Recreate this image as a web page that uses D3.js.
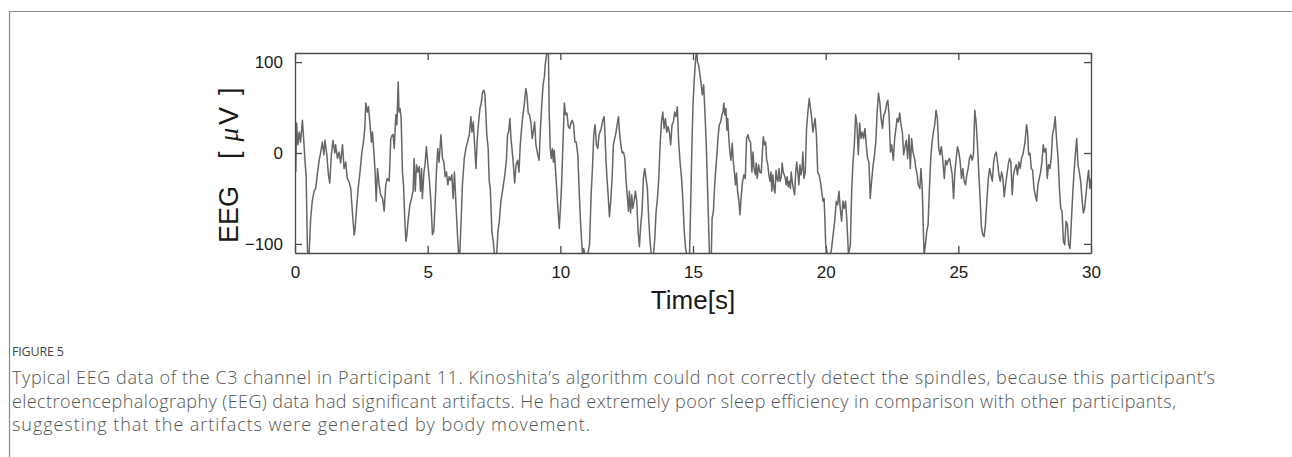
<!DOCTYPE html>
<html>
<head>
<meta charset="utf-8">
<script src="https://cdn.jsdelivr.net/npm/d3@7"></script>
<style>
  body { margin: 0; background: #fff; }
  svg { display: block; }
</style>
</head>
<body>
<div class="chart"></div>
<script>
const svgWidth = 1292
const svgHeight = 457

// EEG trace (seconds, microvolts)
const times = [
  0.00,0.03,0.06,0.11,0.16,0.21,0.28,0.34,0.38,0.42,0.47,0.53,0.59,0.65,0.72,0.78,0.84,0.91,0.97,1.03,
  1.09,1.13,1.20,1.26,1.31,1.37,1.43,1.50,1.53,1.60,1.66,1.72,1.79,1.85,1.91,1.97,2.04,2.10,2.16,2.23,
  2.26,2.33,2.38,2.45,2.52,2.58,2.63,2.67,2.73,2.77,2.82,2.88,2.92,2.98,3.02,3.06,3.11,3.17,3.23,3.30,
  3.36,3.42,3.48,3.55,3.61,3.67,3.70,3.74,3.80,3.84,3.89,3.92,3.96,4.00,4.05,4.09,4.14,4.18,4.21,4.26,
  4.33,4.39,4.45,4.49,4.53,4.58,4.63,4.68,4.73,4.77,4.80,4.86,4.90,4.95,5.00,5.06,5.12,5.18,5.23,5.28,
  5.33,5.38,5.43,5.50,5.56,5.61,5.66,5.71,5.76,5.81,5.86,5.91,5.96,6.01,6.06,6.13,6.17,6.21,6.26,6.31,
  6.38,6.44,6.50,6.57,6.63,6.67,6.72,6.77,6.82,6.87,6.92,6.97,7.02,7.07,7.12,7.16,7.19,7.23,7.28,7.32,
  7.36,7.42,7.47,7.52,7.60,7.65,7.70,7.76,7.82,7.89,7.92,7.97,8.01,8.05,8.10,8.14,8.20,8.24,8.28,8.33,
  8.39,8.44,8.49,8.54,8.59,8.64,8.70,8.74,8.79,8.84,8.89,8.94,8.99,9.03,9.08,9.15,9.20,9.25,9.30,9.35,
  9.40,9.43,9.48,9.52,9.55,9.58,9.62,9.66,9.70,9.74,9.77,9.84,9.90,9.96,10.03,10.06,10.11,10.15,10.20,10.25,
  10.30,10.35,10.40,10.45,10.50,10.55,10.60,10.66,10.71,10.76,10.81,10.84,10.88,10.93,11.03,11.10,11.16,11.21,11.26,11.31,
  11.36,11.41,11.46,11.54,11.60,11.65,11.68,11.72,11.76,11.81,11.85,11.90,11.95,12.00,12.05,12.10,12.14,12.19,12.23,12.28,
  12.33,12.38,12.43,12.48,12.53,12.57,12.60,12.65,12.69,12.73,12.78,12.83,12.88,12.93,12.98,13.03,13.08,13.13,13.18,13.23,
  13.28,13.33,13.38,13.43,13.51,13.56,13.61,13.66,13.71,13.76,13.81,13.86,13.91,13.96,14.01,14.06,14.11,14.16,14.21,14.26,
  14.31,14.36,14.41,14.46,14.52,14.57,14.62,14.67,14.72,14.77,14.87,14.92,14.96,15.00,15.05,15.10,15.14,15.17,15.21,15.25,
  15.30,15.35,15.40,15.45,15.50,15.56,15.62,15.69,15.72,15.77,15.81,15.85,15.90,15.94,15.99,16.04,16.09,16.13,16.16,16.20,
  16.24,16.28,16.31,16.35,16.39,16.43,16.48,16.52,16.57,16.60,16.64,16.68,16.73,16.77,16.82,16.87,16.92,16.97,17.02,17.07,
  17.12,17.17,17.22,17.26,17.30,17.35,17.38,17.42,17.47,17.52,17.57,17.61,17.65,17.70,17.74,17.77,17.82,17.86,17.90,17.94,
  17.97,18.01,18.05,18.09,18.13,18.16,18.20,18.24,18.28,18.33,18.36,18.40,18.44,18.48,18.51,18.55,18.59,18.63,18.67,18.70,
  18.74,18.78,18.83,18.87,18.91,18.96,18.99,19.03,19.07,19.11,19.14,19.18,19.23,19.28,19.33,19.38,19.46,19.52,19.56,19.60,
  19.65,19.70,19.75,19.80,19.85,19.90,19.94,19.97,20.00,20.03,20.06,20.15,20.21,20.28,20.34,20.40,20.45,20.50,20.55,20.60,
  20.65,20.70,20.75,20.80,20.86,20.93,20.98,21.03,21.08,21.13,21.18,21.23,21.28,21.33,21.38,21.43,21.48,21.53,21.58,21.63,
  21.68,21.73,21.79,21.84,21.89,21.94,21.99,22.04,22.09,22.14,22.19,22.24,22.29,22.34,22.39,22.44,22.49,22.55,22.60,22.65,
  22.69,22.74,22.79,22.84,22.89,22.94,22.99,23.04,23.09,23.14,23.19,23.24,23.29,23.35,23.40,23.45,23.49,23.55,23.59,23.64,
  23.69,23.71,23.76,23.81,23.86,23.91,23.96,24.01,24.06,24.11,24.16,24.21,24.26,24.31,24.36,24.41,24.47,24.52,24.57,24.62,
  24.67,24.72,24.77,24.82,24.87,24.92,24.97,25.02,25.07,25.12,25.17,25.22,25.27,25.32,25.37,25.42,25.47,25.52,25.57,25.62,
  25.67,25.72,25.77,25.82,25.87,25.92,25.97,26.02,26.08,26.13,26.18,26.23,26.28,26.33,26.38,26.43,26.48,26.53,26.58,26.63,
  26.68,26.73,26.78,26.83,26.88,26.93,26.98,27.03,27.08,27.13,27.18,27.23,27.28,27.33,27.38,27.43,27.51,27.57,27.61,27.65,
  27.70,27.75,27.80,27.85,27.90,27.95,28.00,28.05,28.10,28.15,28.20,28.25,28.30,28.35,28.40,28.45,28.50,28.55,28.60,28.65,
  28.70,28.76,28.81,28.86,28.91,28.96,29.01,29.06,29.11,29.16,29.21,29.26,29.31,29.36,29.41,29.46,29.51,29.56,29.61,29.66,
  29.71,29.76,29.81,29.86,29.91,29.96,30.00
]
const eeg = [
  -6,-20,33,9,23,12,36,9,-10,-26,-108,-112,-72,-53,-42,-39,-24,-8,1,12,
  -2,14,-2,-24,-33,-2,14,0,9,-6,1,-11,9,-17,-10,-28,-32,-39,-64,-90,
  -85,-57,-39,-21,1,12,27,55,45,51,34,12,23,-2,-21,-53,-17,-35,-46,-50,
  -64,-35,-28,-31,16,20,20,5,42,31,78,45,49,38,-21,-35,-75,-97,-92,-75,
  -57,-50,-42,-6,-42,-13,-21,-15,-42,-17,-50,-21,-13,7,-10,-28,-53,-90,-86,-57,
  -21,5,-10,20,-6,-10,-26,-21,-35,-26,-30,-24,-50,-21,-53,-94,-112,-112,-75,-35,
  -6,5,12,20,40,23,34,9,-17,16,34,49,55,67,69,64,45,20,5,-31,
  -39,-86,-97,-112,-112,-86,-75,-53,-42,-28,-21,-6,20,23,38,16,-2,-17,-33,-13,
  -8,-21,9,27,42,53,71,64,44,42,34,16,25,34,9,-2,-8,27,53,75,
  84,97,108,114,112,45,5,-6,5,-10,3,-28,-57,-83,-46,-24,20,55,42,44,
  29,27,33,36,31,12,12,-2,-42,-75,-101,-112,-105,-112,-112,-101,-46,-17,20,31,
  9,5,20,27,36,40,23,-8,-28,-50,-70,-53,-28,9,16,23,31,40,23,9,
  0,1,-6,-31,-50,-64,-42,-66,-46,-61,-53,-42,-53,-86,-103,-79,-64,-28,-17,-28,
  -39,-72,-97,-112,-112,-94,-64,-50,-28,9,34,45,27,38,23,29,23,9,31,34,
  45,40,51,12,-13,-28,-53,-86,-105,-112,-112,-46,9,53,82,104,112,100,97,89,
  78,64,75,45,9,-50,-112,-112,-72,-64,-39,-21,-2,16,31,34,42,45,55,42,
  49,25,38,16,1,-8,11,-10,-24,-35,-22,-42,-53,-68,-46,-31,-24,-28,16,20,
  14,12,-21,1,-17,-24,-11,-28,-13,-21,-22,-2,18,9,12,-6,-13,-24,-31,-21,
  -42,-24,-39,-44,-19,-28,-31,-17,-31,-26,-11,-21,-24,-28,-35,-26,-37,-31,-39,-21,
  -31,-39,-46,-21,-10,-24,-35,-13,-24,-17,1,-28,-21,27,45,60,42,23,31,38,
  20,-21,-24,-31,-42,-53,-50,-72,-101,-105,-112,-112,-108,-90,-75,-53,-57,-42,-61,-75,
  -53,-61,-53,-75,-112,-101,-42,-10,9,42,31,-2,33,16,23,16,27,9,-6,-10,
  -50,-31,-13,-2,12,45,66,56,38,27,42,45,53,58,42,1,9,-8,16,27,
  38,34,44,31,23,-2,7,14,-6,20,-17,16,1,-6,-17,-24,-35,-39,-17,-39,
  -94,-112,-101,-86,-79,-39,-6,12,23,31,47,38,5,-2,7,-6,-28,-8,-13,-8,
  -6,-15,-24,-50,-21,-6,7,1,-10,-28,-17,-31,-35,-24,-17,-6,-2,-8,-2,47,
  34,9,-21,-50,-81,-90,-92,-79,-50,-28,-17,-24,-31,-10,-2,1,-11,-24,-31,-21,
  -28,-48,-35,-24,-13,-6,-10,-46,-24,-17,-13,-24,-10,-17,-6,-2,11,31,23,-2,
  0,-17,-19,-39,-46,-53,-35,-28,-21,-10,9,1,5,-28,-13,-17,-6,20,27,40,
  16,-6,-39,-61,-64,-97,-101,-75,-79,-101,-105,-75,-46,-21,-2,16,-13,-21,-31,-50,
  -66,-61,-46,-31,-19,-39,-28
]

const xTicks = [0, 5, 10, 15, 20, 25, 30]
const yTicks = [-100, 0, 100]

const xLabel = "Time[s]"
const figureTitle = "FIGURE 5"
const captionLines = [
  "Typical EEG data of the C3 channel in Participant 11. Kinoshita’s algorithm could not correctly detect the spindles, because this participant’s",
  "electroencephalography (EEG) data had significant artifacts. He had extremely poor sleep efficiency in comparison with other participants,",
  "suggesting that the artifacts were generated by body movement."
]
// right edge of each caption line in the figure
const captionEnds = [1215, 1176, 590]

let plot = { left: 295, right: 1091, top: 53, bottom: 253 }

let svg = d3
  .select(".chart")
  .append("svg")
  .attr("width", svgWidth)
  .attr("height", svgHeight)
  .style("background", "#fff")

// outer figure frame (open to the right and bottom)
svg.append("path")
  .attr("d", "M9.5,457 V11.5 H1292")
  .attr("fill", "none")
  .attr("stroke", "#8a8a8a")
  .attr("stroke-width", 1.2)

let x = d3.scaleLinear().domain([0, 30]).range([plot.left, plot.right])
let y = d3.scaleLinear().domain([-110, 110]).range([plot.bottom, plot.top])

svg.append("clipPath")
  .attr("id", "clip")
  .append("rect")
  .attr("x", plot.left)
  .attr("y", plot.top)
  .attr("width", plot.right - plot.left)
  .attr("height", plot.bottom - plot.top)

let series = times.map((t, i) => ({ t: t, v: eeg[i] }))

let line = d3.line()
  .x(d => x(d.t))
  .y(d => y(d.v))

svg.append("path")
  .datum(series)
  .attr("clip-path", "url(#clip)")
  .attr("fill", "none")
  .attr("stroke", "#666")
  .attr("stroke-width", 1.5)
  .attr("stroke-linejoin", "round")
  .attr("d", line)

// MATLAB-style box with inward ticks on all four sides
const axisColor = "#4a4a4a"
const tickLen = 7

let bottomAxis = d3.axisBottom(x).tickValues(xTicks).tickSizeInner(-tickLen).tickSizeOuter(0).tickPadding(13)
let topAxis = d3.axisTop(x).tickValues(xTicks).tickSizeInner(-tickLen).tickSizeOuter(0).tickFormat("")
let leftAxis = d3.axisLeft(y).tickValues(yTicks).tickSizeInner(-tickLen).tickSizeOuter(0).tickPadding(12)
  .tickFormat(d => d < 0 ? "\u2212" + Math.abs(d) : d)
let rightAxis = d3.axisRight(y).tickValues(yTicks).tickSizeInner(-tickLen).tickSizeOuter(0).tickFormat("")

let gx = svg.append("g").attr("transform", `translate(0, ${plot.bottom})`).call(bottomAxis)
let gxt = svg.append("g").attr("transform", `translate(0, ${plot.top})`).call(topAxis)
let gy = svg.append("g").attr("transform", `translate(${plot.left}, 0)`).call(leftAxis)
let gyr = svg.append("g").attr("transform", `translate(${plot.right}, 0)`).call(rightAxis)

;[gx, gxt, gy, gyr].forEach(g => {
  g.select(".domain").attr("stroke", axisColor).attr("stroke-width", 1.3)
  g.selectAll(".tick line").attr("stroke", axisColor).attr("stroke-width", 1.3)
  g.selectAll(".tick text")
    .attr("fill", "#1a1a1a")
    .attr("font-family", "Liberation Sans, Arial, sans-serif")
    .attr("font-size", 17)
})

// axis titles
svg.append("text")
  .attr("x", (plot.left + plot.right) / 2)
  .attr("y", 309)
  .attr("text-anchor", "middle")
  .attr("font-family", "Liberation Sans, Arial, sans-serif")
  .attr("font-size", 26)
  .attr("fill", "#1a1a1a")
  .text(xLabel)

// y title laid out along the rotated baseline, starting at the bottom
let yl = svg.append("text")
  .attr("transform", "translate(238, 243) rotate(-90)")
  .attr("font-family", "Liberation Sans, Arial, sans-serif")
  .attr("font-size", 27)
  .attr("fill", "#1a1a1a")
yl.append("tspan").text("EEG")
yl.append("tspan").attr("dx", 27).text("[")
yl.append("tspan").attr("dx", 10).attr("font-style", "italic")
  .attr("font-family", "Liberation Serif, serif").text("\u03bc")
yl.append("tspan").attr("dx", 3).text("V")
yl.append("tspan").attr("dx", 12).text("]")

// caption
svg.append("text")
  .attr("x", 12)
  .attr("y", 356)
  .attr("font-family", "Open Sans, sans-serif")
  .attr("font-size", 12.5)
  .attr("fill", "#444")
  .attr("textLength", 52)
  .text(figureTitle)

svg.selectAll(".caption")
  .data(captionLines)
  .enter()
  .append("text")
  .attr("class", "caption")
  .attr("x", 12)
  .attr("y", (d, i) => 384 + i * 23.5)
  .attr("font-family", "Open Sans, sans-serif")
  .attr("font-weight", 300)
  .attr("font-size", 18)
  .attr("fill", "#555")
  .attr("textLength", (d, i) => captionEnds[i] - 12)
  .attr("lengthAdjust", "spacing")
  .text(d => d)
</script>
</body>
</html>
